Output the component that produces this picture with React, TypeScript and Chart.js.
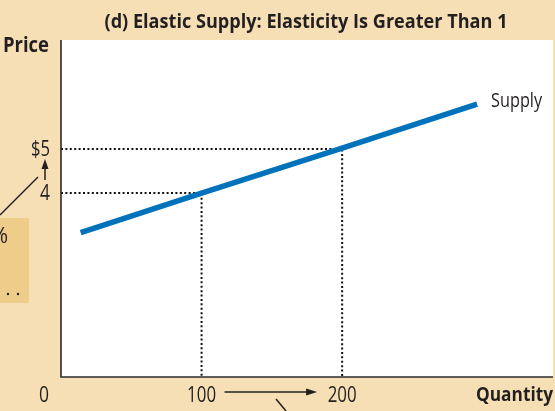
import React, { useEffect, useRef } from "react";
import { Chart, registerables } from "chart.js";
Chart.register(...registerables);

const titleText = "(d) Elastic Supply: Elasticity Is Greater Than 1";
const yAxisTitle = "Price";
const xAxisTitle = "Quantity";
const seriesLabel = "Supply";
const supplyQuantities = [14, 100, 200, 296];
const supplyPrices = [3.1, 4, 5.02, 6.02];
const guideQuantities = [100, 200];
const guidePrices = [4, 5];
const xTickLabels = ["100", "200"];
const yTickLabels = ["4", "$5"];
const originLabel = "0";
const xMin = 0;
const xMax = 350;
const yMin = -0.18;
const yMax = 7.48;

const CREAM = "#f6dfb5";
const BOX = "#eecd8a";
const INK = "#231f20";
const BLUE = "#0071bb";
const FONT = '"Open Sans", "Noto Sans", sans-serif';

function arrowHead(ctx: CanvasRenderingContext2D, x: number, y: number, dir: "up" | "right") {
  ctx.beginPath();
  if (dir === "up") {
    ctx.moveTo(x, y);
    ctx.lineTo(x - 3.5, y + 10);
    ctx.lineTo(x + 3.5, y + 10);
  } else {
    ctx.moveTo(x, y);
    ctx.lineTo(x - 11, y - 3.5);
    ctx.lineTo(x - 11, y + 3.5);
  }
  ctx.closePath();
  ctx.fill();
}

const decorPlugin = {
  id: "decor",
  beforeDraw(chart: any) {
    const { ctx, chartArea: a, width, height } = chart;
    ctx.save();
    ctx.fillStyle = CREAM;
    ctx.fillRect(0, 0, width, height);
    ctx.fillStyle = "#ffffff";
    ctx.fillRect(a.left, a.top, a.right - a.left, a.bottom - a.top);
    // cropped annotation box fragment on the left
    ctx.fillStyle = BOX;
    ctx.fillRect(0, 218, 29, 85);
    ctx.strokeStyle = INK;
    ctx.lineWidth = 1.5;
    ctx.beginPath();
    ctx.moveTo(0, 215);
    ctx.lineTo(38, 177);
    ctx.stroke();
    ctx.fillStyle = INK;
    ctx.font = `21px ${FONT}`;
    ctx.textAlign = "right";
    ctx.textBaseline = "alphabetic";
    ctx.fillText("%", 8, 243);
    ctx.beginPath();
    ctx.arc(8, 294, 1.2, 0, Math.PI * 2);
    ctx.arc(18, 294, 1.2, 0, Math.PI * 2);
    ctx.fill();
    // cropped pointer line at the bottom
    ctx.beginPath();
    ctx.moveTo(276, 399);
    ctx.lineTo(286, 411);
    ctx.stroke();
    ctx.restore();
  },
  afterDatasetsDraw(chart: any) {
    const { ctx, chartArea: a } = chart;
    const xs = chart.scales.x;
    const ys = chart.scales.y;
    ctx.save();
    // axes
    ctx.strokeStyle = "#2b2b2b";
    ctx.lineWidth = 1.6;
    ctx.beginPath();
    ctx.moveTo(a.left, a.top);
    ctx.lineTo(a.left, a.bottom);
    ctx.lineTo(a.right, a.bottom);
    ctx.stroke();

    ctx.fillStyle = INK;
    ctx.textBaseline = "alphabetic";
    // title
    ctx.font = `bold 20px ${FONT}`;
    ctx.textAlign = "center";
    ctx.fillText(titleText, 306, 28, 403);
    // axis titles
    ctx.textAlign = "left";
    ctx.font = `bold 21px ${FONT}`;
    ctx.fillText(yAxisTitle, 3, 52, 46);
    ctx.textAlign = "right";
    ctx.font = `bold 20px ${FONT}`;
    ctx.fillText(xAxisTitle, a.right, 401, 77);

    // series label
    ctx.textAlign = "left";
    ctx.font = `20px ${FONT}`;
    const lastI = supplyQuantities.length - 1;
    ctx.fillText(
      seriesLabel,
      xs.getPixelForValue(supplyQuantities[lastI]) + 14,
      ys.getPixelForValue(supplyPrices[lastI]) + 3,
      51
    );

    // y tick labels
    ctx.textAlign = "right";
    ctx.font = `21px ${FONT}`;
    guidePrices.forEach((p, i) => {
      const w = yTickLabels[i].length > 1 ? 19 : 10;
      ctx.fillText(yTickLabels[i], 50, ys.getPixelForValue(p) + 7, w);
    });
    // x tick labels
    ctx.textAlign = "center";
    guideQuantities.forEach((q, i) => {
      ctx.fillText(xTickLabels[i], xs.getPixelForValue(q), 402, 29);
    });
    ctx.fillText(originLabel, xs.getPixelForValue(xMin) - 17, 402, 10);

    // arrows between guide values
    ctx.strokeStyle = INK;
    ctx.lineWidth = 1.5;
    const ax = 45;
    const yTop = ys.getPixelForValue(guidePrices[1]) + 10;
    const yBot = ys.getPixelForValue(guidePrices[0]) - 13;
    ctx.beginPath();
    ctx.moveTo(ax, yBot);
    ctx.lineTo(ax, yTop + 6);
    ctx.stroke();
    arrowHead(ctx, ax, yTop, "up");

    const xL = xs.getPixelForValue(guideQuantities[0]) + 23;
    const xR = xs.getPixelForValue(guideQuantities[1]) - 25;
    ctx.beginPath();
    ctx.moveTo(xL, 392);
    ctx.lineTo(xR - 6, 392);
    ctx.stroke();
    arrowHead(ctx, xR, 392, "right");
    ctx.restore();
  },
};

export default function App() {
  const ref = useRef<HTMLCanvasElement | null>(null);
  useEffect(() => {
    document.body.style.margin = "0";
    const canvas = ref.current;
    if (!canvas) return;
    const supplyData = supplyQuantities.map((q, i) => ({ x: q, y: supplyPrices[i] }));
    const guideSets = guideQuantities.map((q, i) => ({
      label: "guide" + i,
      data: [
        { x: xMin, y: guidePrices[i] },
        { x: q, y: guidePrices[i] },
        { x: q, y: yMin },
      ],
      borderColor: "#111111",
      borderWidth: 2,
      borderDash: [2, 2.4],
      pointRadius: 0,
      fill: false,
      tension: 0,
    }));
    const chart = new Chart(canvas, {
      type: "line",
      data: {
        datasets: [
          {
            label: seriesLabel,
            data: supplyData,
            borderColor: BLUE,
            borderWidth: 5.5,
            pointRadius: 0,
            fill: false,
            tension: 0,
            borderCapStyle: "butt",
          },
          ...guideSets,
        ],
      },
      options: {
        responsive: false,
        animation: false,
        parsing: true,
        layout: { padding: { left: 61, right: 2, top: 40, bottom: 34 } },
        scales: {
          x: { type: "linear", min: xMin, max: xMax, display: false },
          y: { type: "linear", min: yMin, max: yMax, display: false },
        },
        plugins: {
          legend: { display: false },
          title: { display: false },
          tooltip: { enabled: false },
        },
      },
      plugins: [decorPlugin],
    } as any);
    return () => chart.destroy();
  }, []);
  return <canvas ref={ref} width={555} height={411} style={{ display: "block" }} />;
}
